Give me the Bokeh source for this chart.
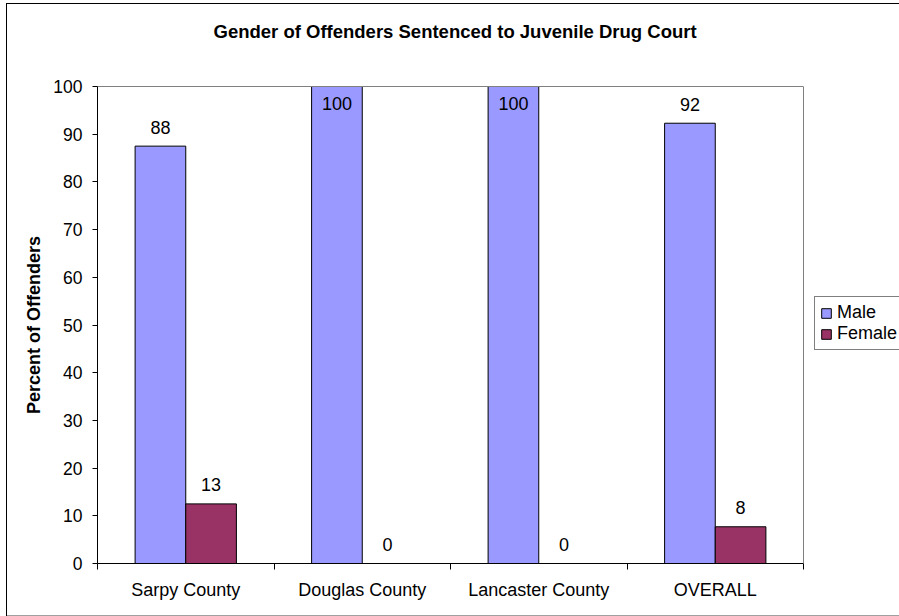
from bokeh.plotting import figure
from bokeh.models import (ColumnDataSource, Range1d, FixedTicker, Legend, LegendItem,
                          LinearAxis, Span)
from bokeh.core.properties import value
from bokeh.embed import file_html
from bokeh.resources import INLINE

# ---- data ----
categories = ["Sarpy County", "Douglas County", "Lancaster County", "OVERALL"]
male = [87.5, 100.0, 100.0, 92.3]
female = [12.5, 0.0, 0.0, 7.7]
y_ticks = [0, 10, 20, 30, 40, 50, 60, 70, 80, 90, 100]
series_names = ["Male", "Female"]
series_colors = ["#9999FF", "#993366"]

FONT = "Liberation Sans"
BAR_W = 0.287
OFF = BAR_W / 2

# layout
W, H = 899, 616
LEFT, TOP, BOTTOM = 97, 86, 53
PLOT_W = 706                      # width of the category plot area in px
FRAME_W = W - LEFT                # frame extends to the right edge (legend lives there)
N = len(categories)
x_end = N * FRAME_W / PLOT_W

p = figure(width=W, height=H, output_backend="svg", toolbar_location=None,
           x_range=Range1d(0, x_end), y_range=Range1d(0, 100),
           min_border_left=LEFT, min_border_right=0, min_border_top=TOP, min_border_bottom=BOTTOM)

# outer chart-area border (left, top, bottom) drawn behind a transparent canvas border
p.border_fill_color = None
p.styles = {
    "background-color": "white",
    "background-image": ("linear-gradient(#000000, #000000), linear-gradient(#000000, #000000), "
                         "linear-gradient(#a0a0a0, #a0a0a0)"),
    "background-size": "1px 613px, 893px 1px, 893px 1px",
    "background-position": "6px 3px, 6px 3px, 6px 615px",
    "background-repeat": "no-repeat",
}

p.xgrid.visible = False
p.ygrid.visible = False
p.outline_line_color = None
p.background_fill_color = "white"

idx = list(range(N))
renderers = []
for k, (vals, name, col) in enumerate(zip([male, female], series_names, series_colors)):
    xs = [i + 0.5 + (-OFF if k == 0 else OFF) for i in idx]
    labels = [str(int(v + 0.5)) for v in vals]
    yoff = [17 if v > 95 else -19 for v in vals]
    src = ColumnDataSource(dict(x=xs, top=vals, label=labels, yoff=yoff))
    r = p.vbar(x="x", top="top", width=BAR_W, bottom=0, source=src,
               fill_color=col, line_color="#000000", line_width=1)
    renderers.append(r)
    p.text(x="x", y="top", text="label", source=src, y_offset="yoff",
           text_align="center", text_baseline="middle",
           text_font=value(FONT), text_font_size="18px", text_color="#000000")

# x axis (bottom)
xa = p.below[0]
xa.bounds = (0, N)
xa.ticker = FixedTicker(ticks=[i + 0.5 for i in idx], minor_ticks=list(range(N + 1)))
xa.major_label_overrides = {i + 0.5: c for i, c in zip(idx, categories)}
xa.major_tick_out = 0
xa.major_tick_in = 0
xa.minor_tick_out = 6
xa.minor_tick_in = 0
xa.minor_tick_line_color = "#000000"
xa.axis_line_color = "#000000"
xa.major_label_standoff = 10
xa.major_label_text_font = FONT
xa.major_label_text_font_size = "18px"
xa.major_label_text_color = "#000000"

# y axis
ya = p.left[0]
ya.ticker = FixedTicker(ticks=y_ticks, minor_ticks=[])
ya.major_tick_out = 5
ya.major_tick_in = 0
ya.major_tick_line_color = "#000000"
ya.axis_line_color = "#000000"
ya.major_label_standoff = 10
ya.major_label_text_font = FONT
ya.major_label_text_font_size = "17.5px"
ya.major_label_text_color = "#000000"
ya.axis_label = "Percent of Offenders"
ya.axis_label_text_font = FONT
ya.axis_label_text_font_size = "18px"
ya.axis_label_text_font_style = "bold"
ya.axis_label_standoff = 6
ya.axis_label_text_color = "#000000"

# plot-area border (top and right, gray); the top axis also reserves room under the title
p.add_layout(Span(location=N, dimension="height", line_color="#808080", line_width=1))
top_axis = LinearAxis(ticker=FixedTicker(ticks=[], minor_ticks=[]), bounds=(0, N),
                      axis_line_color="#808080", major_tick_out=0, major_tick_in=0,
                      minor_tick_out=0, minor_tick_in=0, major_label_standoff=0,
                      major_tick_line_color=None, minor_tick_line_color=None,
                      axis_label=" ", axis_label_text_font_size="1px",
                      axis_label_standoff=41)
p.add_layout(top_axis, "above")

p.title.text = "Gender of Offenders Sentenced to Juvenile Drug Court"
p.title.align = "left"
p.title.offset = 116
p.title.text_font = FONT
p.title.text_font_size = "18.5px"
p.title.text_font_style = "bold"
p.title.text_color = "#000000"
p.title.standoff = 0

legend = Legend(items=[LegendItem(label=n, renderers=[r]) for n, r in zip(series_names, renderers)],
                location=(717, 213), orientation="vertical", margin=0, padding=5, spacing=0,
                glyph_width=12, glyph_height=12, label_standoff=5, label_height=21,
                label_text_font=FONT, label_text_font_size="18px", label_text_color="#000000",
                border_line_color="#000000", border_line_width=1,
                background_fill_color="white", background_fill_alpha=1.0)
p.add_layout(legend, "center")

open("out.html", "w").write(file_html(p, INLINE))
